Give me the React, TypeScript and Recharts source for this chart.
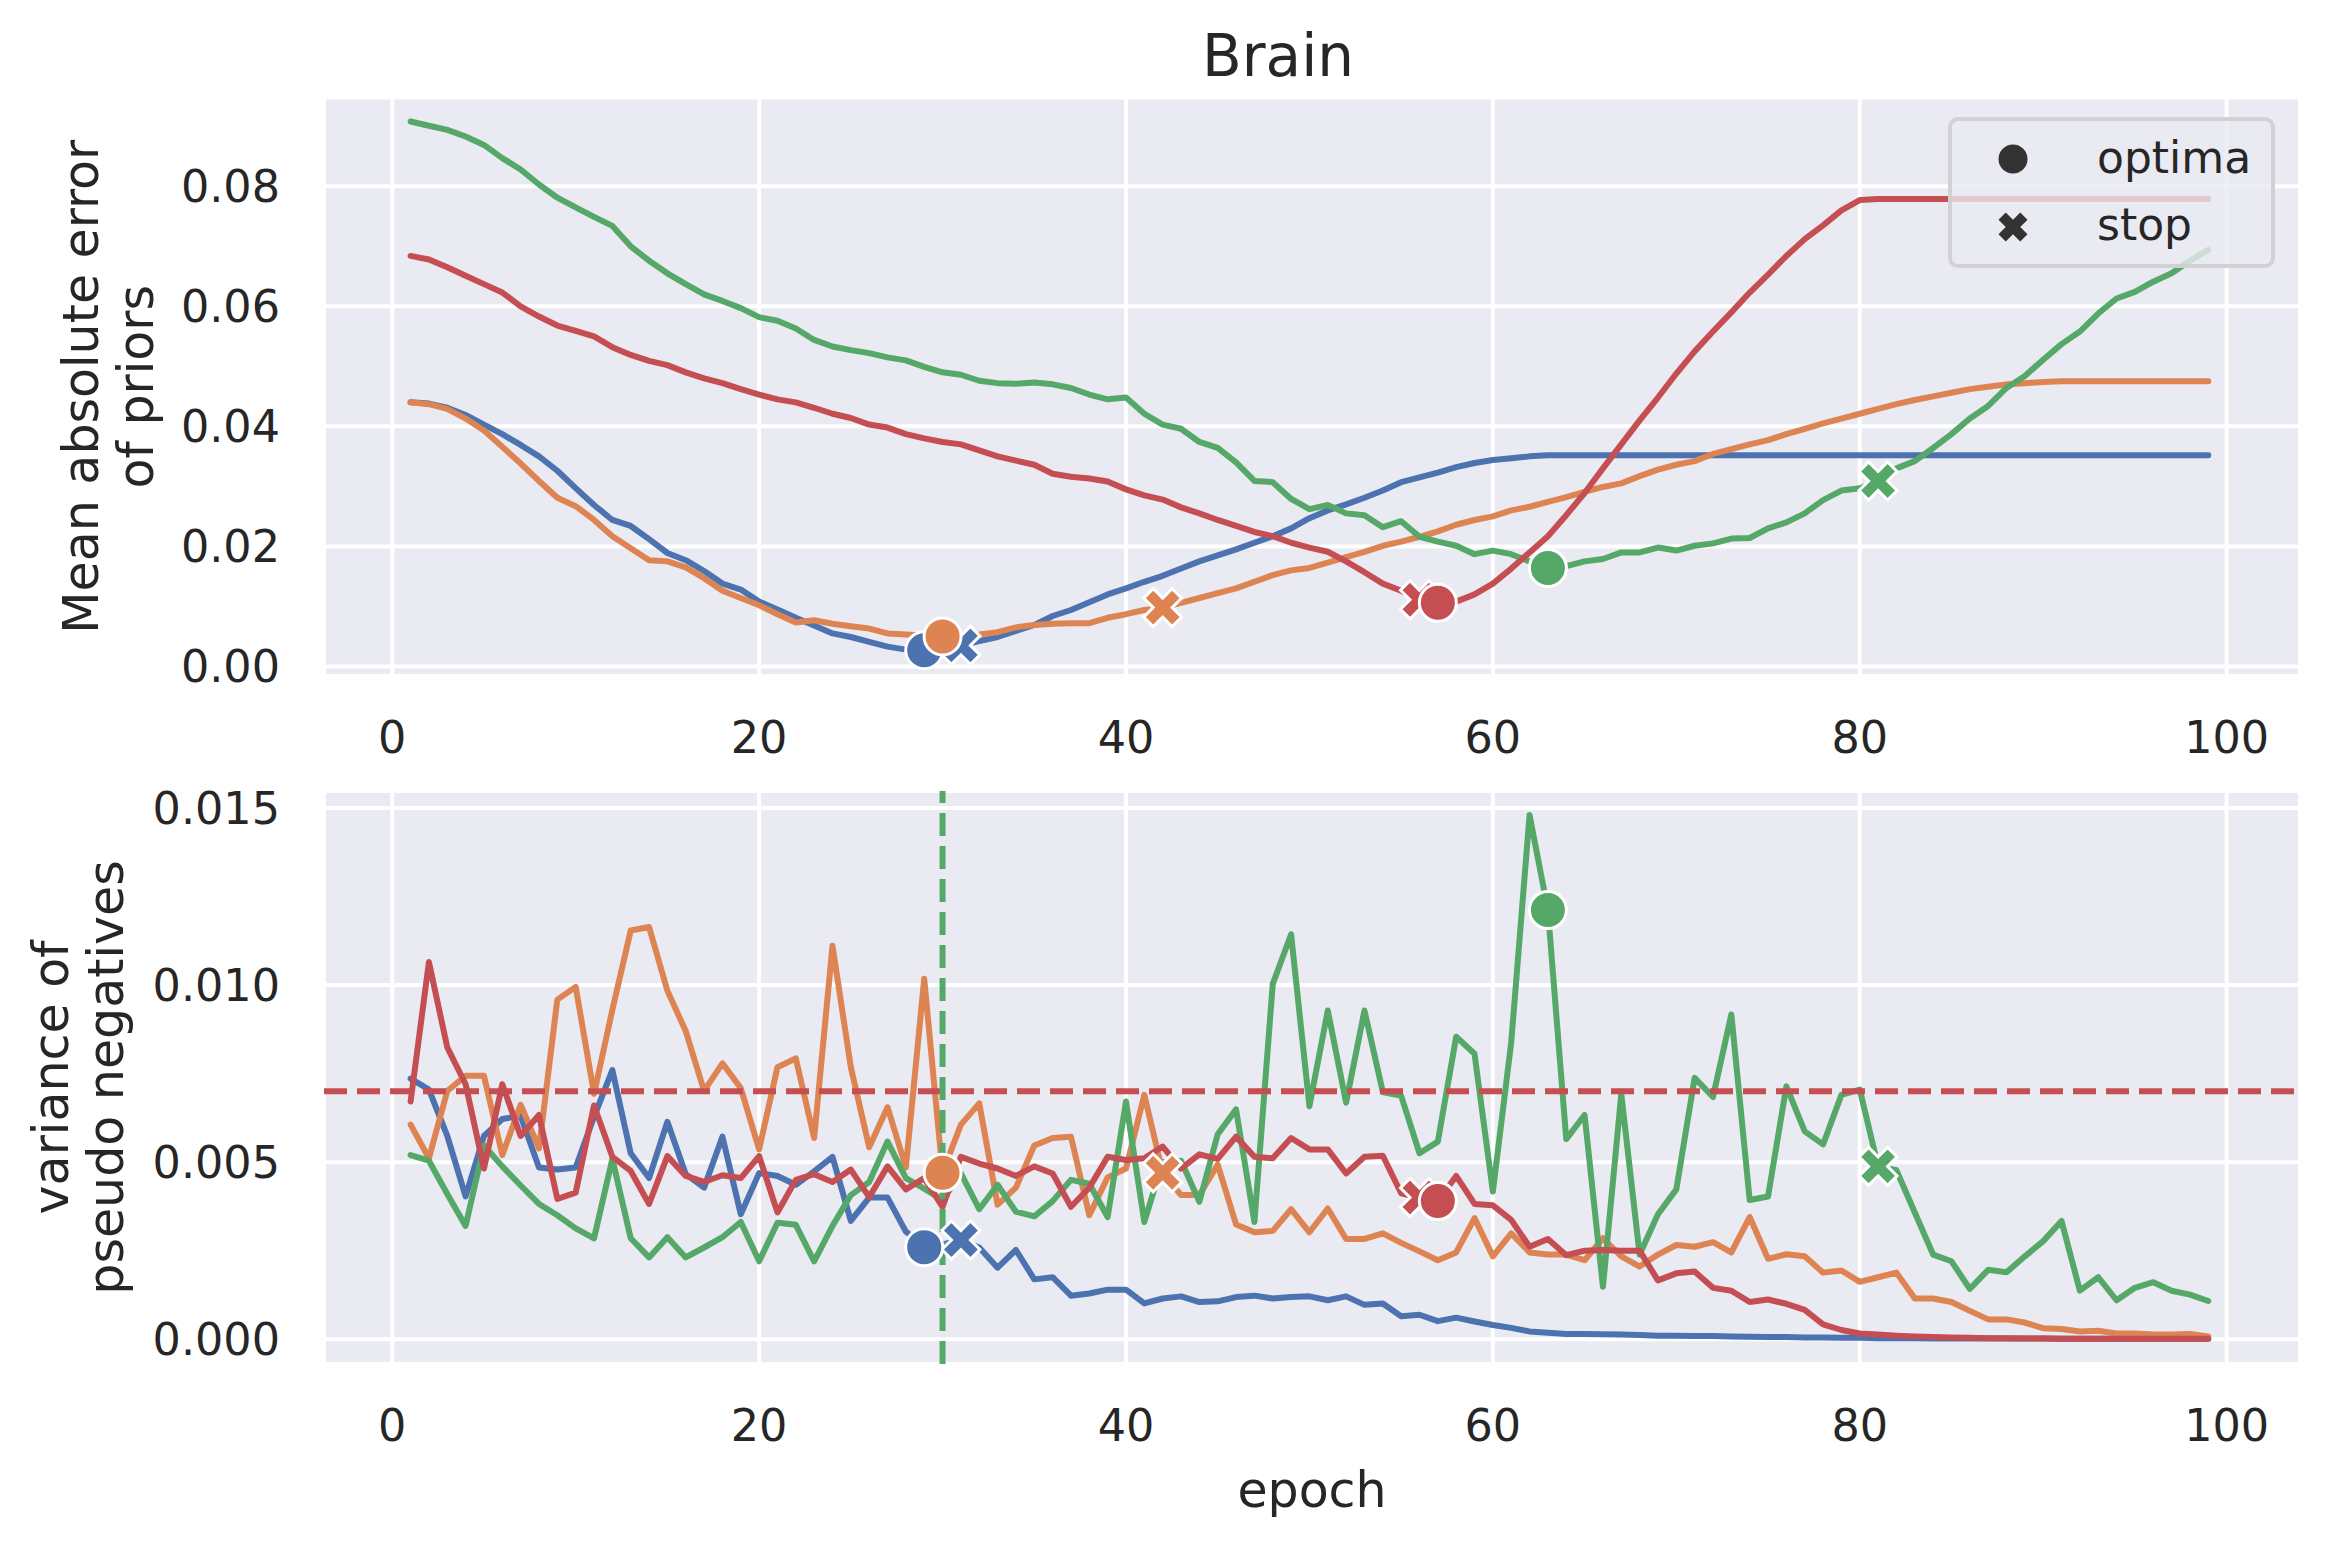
import React from 'react';
import {
  ComposedChart,
  Line,
  Scatter,
  XAxis,
  YAxis,
  CartesianGrid,
  ReferenceLine,
  Legend,
  Customized,
} from 'recharts';

// epochs 1..99 (x categories)
const EPOCHS = Array.from({ length: 99 }, (_, i) => i + 1);

// top panel: mean absolute error of priors
const MAE_BLUE = [
  0.044, 0.0438, 0.0431, 0.0419, 0.0403, 0.0387, 0.0369, 0.035, 0.0326, 0.0297,
  0.0269, 0.0244, 0.0234, 0.0212, 0.0189, 0.0177, 0.0159, 0.0138, 0.0128, 0.0108,
  0.0095, 0.0081, 0.0068, 0.0055, 0.0049, 0.0041, 0.0033, 0.0028, 0.0027, 0.0028,
  0.0035, 0.0042, 0.0049, 0.0059, 0.0069, 0.0084, 0.0094, 0.0107, 0.012, 0.013,
  0.0141, 0.0151, 0.0163, 0.0175, 0.0185, 0.0195, 0.0206, 0.0217, 0.023, 0.0247,
  0.026, 0.027, 0.0281, 0.0293, 0.0307, 0.0315, 0.0323, 0.0332, 0.0339, 0.0344,
  0.0347, 0.035, 0.0352, 0.0352, 0.0352, 0.0352, 0.0352, 0.0352, 0.0352, 0.0352,
  0.0352, 0.0352, 0.0352, 0.0352, 0.0352, 0.0352, 0.0352, 0.0352, 0.0352, 0.0352,
  0.0352, 0.0352, 0.0352, 0.0352, 0.0352, 0.0352, 0.0352, 0.0352, 0.0352, 0.0352,
  0.0352, 0.0352, 0.0352, 0.0352, 0.0352, 0.0352, 0.0352, 0.0352, 0.0352,
];
const MAE_ORANGE = [
  0.044, 0.0437, 0.0429, 0.0413, 0.0393, 0.0366, 0.0338, 0.0309, 0.0281, 0.0267,
  0.0244, 0.0217, 0.0197, 0.0177, 0.0175, 0.0165, 0.0147, 0.0126, 0.0114, 0.0102,
  0.0087, 0.0073, 0.0077, 0.0071, 0.0067, 0.0063, 0.0055, 0.0053, 0.0051, 0.005,
  0.005, 0.0053, 0.0057, 0.0065, 0.0069, 0.0071, 0.0072, 0.0072, 0.0081, 0.0087,
  0.0094, 0.0098, 0.0106, 0.0114, 0.0122, 0.013, 0.0141, 0.0152, 0.016, 0.0164,
  0.0173, 0.0182, 0.0191, 0.0201, 0.0208, 0.0216, 0.0225, 0.0236, 0.0244, 0.025,
  0.026, 0.0266, 0.0274, 0.0282, 0.0291, 0.0299, 0.0305, 0.0317, 0.0328, 0.0336,
  0.0342, 0.0354, 0.0362, 0.037, 0.0377, 0.0387, 0.0396, 0.0405, 0.0413, 0.0421,
  0.0429, 0.0437, 0.0444, 0.045, 0.0456, 0.0462, 0.0466, 0.047, 0.0472, 0.0474,
  0.0475, 0.0475, 0.0475, 0.0475, 0.0475, 0.0475, 0.0475, 0.0475, 0.0475,
];
const MAE_GREEN = [
  0.0908, 0.0901, 0.0894, 0.0883, 0.0869, 0.0847, 0.0828, 0.0803, 0.0781, 0.0765,
  0.0749, 0.0734, 0.07, 0.0676, 0.0655, 0.0637, 0.062, 0.0609, 0.0597, 0.0582,
  0.0576, 0.0563, 0.0544, 0.0533, 0.0527, 0.0522, 0.0515, 0.051, 0.0499, 0.049,
  0.0486, 0.0476, 0.0472, 0.0471, 0.0473, 0.047, 0.0464, 0.0453, 0.0445, 0.0448,
  0.0421, 0.0403, 0.0396, 0.0374, 0.0364, 0.034, 0.0309, 0.0307, 0.0279, 0.0262,
  0.0269, 0.0255, 0.0252, 0.0232, 0.0242, 0.0216, 0.0208, 0.0201, 0.0187, 0.0193,
  0.0187, 0.0175, 0.0164, 0.0167, 0.0175, 0.0179, 0.019, 0.019, 0.0198, 0.0193,
  0.0201, 0.0205, 0.0213, 0.0214, 0.023, 0.024, 0.0255, 0.0277, 0.0293, 0.0297,
  0.0309, 0.033, 0.0342, 0.0364, 0.0387, 0.0413, 0.0434, 0.0464, 0.0484, 0.0511,
  0.0537, 0.0558, 0.0588, 0.0613, 0.0624, 0.0641, 0.0655, 0.0676, 0.0694,
];
const MAE_RED = [
  0.0684, 0.0678, 0.0665, 0.0651, 0.0637, 0.0623, 0.06, 0.0583, 0.0568, 0.0559,
  0.055, 0.0532, 0.0519, 0.0509, 0.0502, 0.049, 0.048, 0.0472, 0.0462, 0.0453,
  0.0445, 0.044, 0.0431, 0.0421, 0.0414, 0.0403, 0.0398, 0.0387, 0.038, 0.0374,
  0.037, 0.036, 0.035, 0.0343, 0.0336, 0.0321, 0.0316, 0.0313, 0.0308, 0.0295,
  0.0285, 0.0278, 0.0265, 0.0255, 0.0244, 0.0234, 0.0224, 0.0217, 0.0206, 0.0198,
  0.0191, 0.0175, 0.0157, 0.0138, 0.0126, 0.0111, 0.0106, 0.0108, 0.012, 0.0138,
  0.0163, 0.019, 0.0217, 0.0252, 0.0289, 0.033, 0.037, 0.041, 0.0448, 0.0488,
  0.0525, 0.0558, 0.059, 0.0623, 0.0653, 0.0684, 0.0712, 0.0735, 0.076, 0.0777,
  0.0779, 0.0779, 0.0779, 0.0779, 0.0779, 0.0779, 0.0779, 0.0779, 0.0779, 0.0779,
  0.0779, 0.0779, 0.0779, 0.0779, 0.0779, 0.0779, 0.0779, 0.0779, 0.0779,
];

// bottom panel: variance of pseudo negatives
const VAR_BLUE = [
  0.00736, 0.00705, 0.00574, 0.00403, 0.00574, 0.00622, 0.0063, 0.00485, 0.00479, 0.00485,
  0.00628, 0.0076, 0.00525, 0.00455, 0.00614, 0.00466, 0.00428, 0.00572, 0.00353, 0.00469,
  0.00461, 0.00436, 0.00474, 0.00515, 0.00334, 0.004, 0.004, 0.00304, 0.0026, 0.00268,
  0.0028, 0.00259, 0.00202, 0.00252, 0.00169, 0.00175, 0.00123, 0.00129, 0.0014, 0.0014,
  0.00101, 0.00115, 0.00121, 0.00105, 0.00107, 0.00119, 0.00123, 0.00115, 0.00119, 0.00121,
  0.0011, 0.00121, 0.00097, 0.00101, 0.00065, 0.00069, 0.00051, 0.00061, 0.0005, 0.0004,
  0.00032, 0.00022, 0.00018, 0.00015, 0.00015, 0.00014, 0.00013, 0.00012, 0.0001, 0.0001,
  0.00009, 0.00009, 0.00008, 0.00007, 0.00006, 0.00006, 0.00005, 0.00005, 0.00004, 0.00004,
  0.00003, 0.00003, 0.00003, 0.00002, 0.00002, 0.00002, 0.00002, 0.00002, 0.00002, 0.00002,
  0.00001, 0.00001, 0.00001, 0.00001, 0.00001, 0.00001, 0.00001, 0.00001, 0.00001,
];
const VAR_ORANGE = [
  0.00606, 0.00511, 0.00701, 0.00744, 0.00744, 0.0052, 0.00662, 0.00539, 0.00959, 0.00995,
  0.00693, 0.0093, 0.01154, 0.01164, 0.00984, 0.0087, 0.00701, 0.00779, 0.00709, 0.00536,
  0.00768, 0.00793, 0.00568, 0.01111, 0.00768, 0.00542, 0.00655, 0.00485, 0.01018, 0.0047,
  0.00606, 0.00666, 0.0038, 0.00428, 0.00547, 0.00568, 0.00572, 0.0035, 0.00457, 0.00482,
  0.0069, 0.0047, 0.00407, 0.00407, 0.00493, 0.00324, 0.00302, 0.00306, 0.00367, 0.00302,
  0.00369, 0.00283, 0.00283, 0.00299, 0.00272, 0.00248, 0.00223, 0.00245, 0.00342, 0.00234,
  0.00299, 0.00245, 0.00239, 0.00239, 0.00223, 0.00285, 0.00234, 0.00205, 0.00239, 0.00266,
  0.00261, 0.00274, 0.00245, 0.00345, 0.00227, 0.0024, 0.00234, 0.00188, 0.00194, 0.00162,
  0.00175, 0.00188, 0.00115, 0.00115, 0.00105, 0.0008, 0.00056, 0.00056, 0.00047, 0.00031,
  0.00029, 0.00022, 0.00024, 0.00016, 0.00016, 0.00013, 0.00013, 0.00015, 0.00008,
];
const VAR_GREEN = [
  0.0052, 0.00504, 0.0041, 0.0032, 0.00547, 0.00488, 0.00434, 0.00382, 0.0035, 0.00313,
  0.00285, 0.00509, 0.00285, 0.00231, 0.00288, 0.00231, 0.00259, 0.00288, 0.00331, 0.0022,
  0.00329, 0.00323, 0.0022, 0.0032, 0.00407, 0.00444, 0.00558, 0.00455, 0.00425, 0.00393,
  0.00468, 0.00367, 0.00436, 0.0036, 0.00347, 0.0039, 0.0045, 0.00439, 0.00345, 0.00671,
  0.00331, 0.005, 0.00504, 0.00388, 0.00579, 0.00649, 0.00331, 0.01003, 0.01143, 0.00658,
  0.00928, 0.00668, 0.00928, 0.00698, 0.00687, 0.00525, 0.00558, 0.00854, 0.00806, 0.00417,
  0.00838, 0.0148, 0.01212, 0.00565, 0.00633, 0.00148, 0.00692, 0.00239, 0.00353, 0.00423,
  0.00738, 0.00684, 0.00917, 0.00393, 0.00403, 0.00714, 0.00587, 0.0055, 0.0069, 0.00705,
  0.00488, 0.00477, 0.00358, 0.00239, 0.0022, 0.00142, 0.00196, 0.00189, 0.00234, 0.00277,
  0.00334, 0.00137, 0.00175, 0.0011, 0.00145, 0.00161, 0.00137, 0.00126, 0.00108,
];
const VAR_RED = [
  0.00671, 0.01065, 0.00824, 0.0072, 0.00482, 0.0072, 0.00574, 0.00633, 0.00396, 0.00414,
  0.0066, 0.00515, 0.00475, 0.00382, 0.00517, 0.00461, 0.00444, 0.00463, 0.00455, 0.00517,
  0.00358, 0.0045, 0.00466, 0.00444, 0.00479, 0.00401, 0.00488, 0.00423, 0.00455, 0.00374,
  0.00515, 0.00496, 0.00482, 0.00461, 0.00488, 0.00468, 0.00374, 0.00428, 0.00515, 0.00506,
  0.00511, 0.00544, 0.00482, 0.00522, 0.00509, 0.00572, 0.00515, 0.00511, 0.00568, 0.00536,
  0.00536, 0.00468, 0.00515, 0.00518, 0.00412, 0.004, 0.0039, 0.00461, 0.00382, 0.00378,
  0.00337, 0.00261, 0.00283, 0.00237, 0.0025, 0.00252, 0.0025, 0.0025, 0.00166, 0.00186,
  0.00191, 0.00145, 0.00137, 0.00105, 0.00112, 0.001, 0.00083, 0.00042, 0.00026, 0.00016,
  0.00013, 0.0001, 0.00008, 0.00006, 0.00005, 0.00004, 0.00003, 0.00003, 0.00002, 0.00002,
  0.00001, 0.00001, 0.00001, 0.00001, 0.00001, 0.00001, 0.00001, 0.00001, 0.00001,
];

// marker epochs per run (blue, orange, green, red)
const RUNS = ['blue', 'orange', 'green', 'red'];
const OPTIMA_EPOCH = [29, 30, 63, 57];
const STOP_EPOCH = [31, 42, 81, 56];

const X_TICKS = [0, 20, 40, 60, 80, 100];
const MAE_TICKS = [0, 0.02, 0.04, 0.06, 0.08];
const VAR_TICKS = [0, 0.005, 0.01, 0.015];
const VAR_THRESHOLD = 0.007;
const CHOSEN_EPOCH = 30;

const COLORS: Record<string, string> = {
  blue: '#4c72b0',
  orange: '#dd8452',
  green: '#55a868',
  red: '#c44e52',
};
const TEXT = '#262626';
const FONT = '"DejaVu Sans", sans-serif';
const BG = '#eaeaf2';

const buildRows = (series: Record<string, number[]>) =>
  EPOCHS.map((epoch, i) => ({
    epoch,
    blue: series.blue[i],
    orange: series.orange[i],
    green: series.green[i],
    red: series.red[i],
  }));

const buildMarkers = (series: Record<string, number[]>, epochs: number[]) =>
  RUNS.map((run, i) => ({
    epoch: epochs[i],
    value: series[run][epochs[i] - 1],
    color: COLORS[run],
  }));

function xPoints(cx: number, cy: number, h: number) {
  const a = 1.0607 * h;
  const b = a / 3;
  const pts = [
    [-b, -a], [b, -a], [b, -b], [a, -b], [a, b], [b, b],
    [b, a], [-b, a], [-b, b], [-a, b], [-a, -b], [-b, -b],
  ];
  return pts
    .map(([x, y]) => `${cx + (x - y) / Math.SQRT2},${cy + (x + y) / Math.SQRT2}`)
    .join(' ');
}

const CircleMarker = (props: any) => {
  const { cx, cy, payload } = props;
  return <circle cx={cx} cy={cy} r={18.5} fill={payload.color} stroke="#fff" strokeWidth={3} />;
};

const CrossMarker = (props: any) => {
  const { cx, cy, payload } = props;
  return (
    <polygon points={xPoints(cx, cy, 19)} fill={payload.color} stroke="#fff" strokeWidth={3} />
  );
};

const yTitle = (lines: string[], baseX: number) => (props: any) => {
  const vb = props.viewBox || {};
  const cy = vb.y + vb.height / 2;
  return (
    <text
      x={baseX}
      y={cy}
      transform={`rotate(-90, ${baseX}, ${cy})`}
      textAnchor="middle"
      fontSize={49}
      fill={TEXT}
      fontFamily={FONT}
    >
      {lines.map((l, i) => (
        <tspan key={l} x={baseX} dy={i === 0 ? 0 : 55}>
          {l}
        </tspan>
      ))}
    </text>
  );
};

const xTitle = (props: any) => {
  const vb = props.viewBox || {};
  return (
    <text
      x={vb.x + vb.width / 2}
      y={vb.y + 143}
      textAnchor="middle"
      fontSize={49}
      fill={TEXT}
      fontFamily={FONT}
    >
      epoch
    </text>
  );
};

const MarkerLegend = () => (
  <div
    style={{
      boxSizing: 'border-box',
      width: 327,
      height: 151,
      border: '4px solid rgba(204,204,204,0.8)',
      borderRadius: 10,
      background: 'rgba(234,234,242,0.8)',
      position: 'relative',
    }}
  >
    <svg width={327} height={151} style={{ position: 'absolute', left: -4, top: -4 }}>
      <circle cx={65} cy={42} r={14.5} fill="#333333" />
      <polygon points={xPoints(65, 110, 14.5)} fill="#333333" />
      <text x={149} y={56} fontSize={44} fill={TEXT} fontFamily={FONT}>
        optima
      </text>
      <text x={149} y={123} fontSize={44} fill={TEXT} fontFamily={FONT}>
        stop
      </text>
    </svg>
  </div>
);

const tickStyle = { fontSize: 44.5, fill: TEXT, fontFamily: FONT };

interface PanelProps {
  height: number;
  margin: { top: number; right: number; bottom: number; left: number };
  series: Record<string, number[]>;
  yDomain: [number, number];
  yTicks: number[];
  digits: number;
  labelLines: string[];
  labelX: number;
  bottomPanel?: boolean;
}

function Panel({ height, margin, series, yDomain, yTicks, digits, labelLines, labelX, bottomPanel }: PanelProps) {
  const rows = buildRows(series);
  const optima = buildMarkers(series, OPTIMA_EPOCH);
  const stops = buildMarkers(series, STOP_EPOCH);

  return (
    <ComposedChart width={2327} height={height} data={rows} margin={margin}>
      <CartesianGrid fill={BG} stroke="#ffffff" strokeWidth={4} />
      <XAxis
        dataKey="epoch"
        type="number"
        domain={[-3.72, 104]}
        allowDataOverflow
        ticks={X_TICKS}
        interval={0}
        height={60}
        axisLine={false}
        tickLine={false}
        tickSize={0}
        tickMargin={45}
        tick={tickStyle}
        label={bottomPanel ? { content: xTitle } : undefined}
      />
      <YAxis
        type="number"
        domain={yDomain}
        allowDataOverflow
        ticks={yTicks}
        interval={0}
        width={324}
        axisLine={false}
        tickLine={false}
        tickSize={0}
        tickMargin={44}
        tick={tickStyle}
        tickFormatter={(v: number) => v.toFixed(digits)}
        label={{ content: yTitle(labelLines, labelX) }}
      />
      {RUNS.map((run) => (
        <Line
          key={run}
          type="linear"
          dataKey={run}
          stroke={COLORS[run]}
          strokeWidth={6}
          strokeLinecap="round"
          strokeLinejoin="round"
          dot={false}
          activeDot={false}
          isAnimationActive={false}
        />
      ))}
      <Scatter data={stops} dataKey="value" shape={CrossMarker} isAnimationActive={false} />
      <Scatter data={optima} dataKey="value" shape={CircleMarker} isAnimationActive={false} />
      {bottomPanel && (
        <ReferenceLine
          y={VAR_THRESHOLD}
          stroke={COLORS.red}
          strokeWidth={6}
          strokeDasharray="23 10"
        />
      )}
      {bottomPanel && (
        <ReferenceLine
          x={CHOSEN_EPOCH}
          stroke={COLORS.green}
          strokeWidth={6}
          strokeDasharray="23 10"
        />
      )}
      {!bottomPanel && (
        <Customized
          component={() => (
            <text x={1278} y={76} textAnchor="middle" fontSize={58} fill={TEXT} fontFamily={FONT}>
              Brain
            </text>
          )}
        />
      )}
      {!bottomPanel && (
        <Legend
          layout="horizontal"
          verticalAlign="middle"
          align="center"
          content={() => <MarkerLegend />}
          wrapperStyle={{ left: 1948, top: 117, width: 327, height: 151 }}
        />
      )}
    </ComposedChart>
  );
}

export default function App() {
  return (
    <div
      style={{
        position: 'absolute',
        left: 0,
        top: 0,
        width: 2327,
        height: 1545,
        background: '#ffffff',
      }}
    >
      <Panel
        height={770}
        margin={{ top: 97.5, right: 27, bottom: 34, left: 0 }}
        series={{ blue: MAE_BLUE, orange: MAE_ORANGE, green: MAE_GREEN, red: MAE_RED }}
        yDomain={[-0.0016, 0.0948]}
        yTicks={MAE_TICKS}
        digits={2}
        labelLines={['Mean absolute error', 'of priors']}
        labelX={98}
      />
      <Panel
        height={775}
        margin={{ top: 21, right: 27, bottom: 121, left: 0 }}
        series={{ blue: VAR_BLUE, orange: VAR_ORANGE, green: VAR_GREEN, red: VAR_RED }}
        yDomain={[-0.0007, 0.01548]}
        yTicks={VAR_TICKS}
        digits={3}
        labelLines={['variance of', 'pseudo negatives']}
        labelX={68}
        bottomPanel
      />
    </div>
  );
}
